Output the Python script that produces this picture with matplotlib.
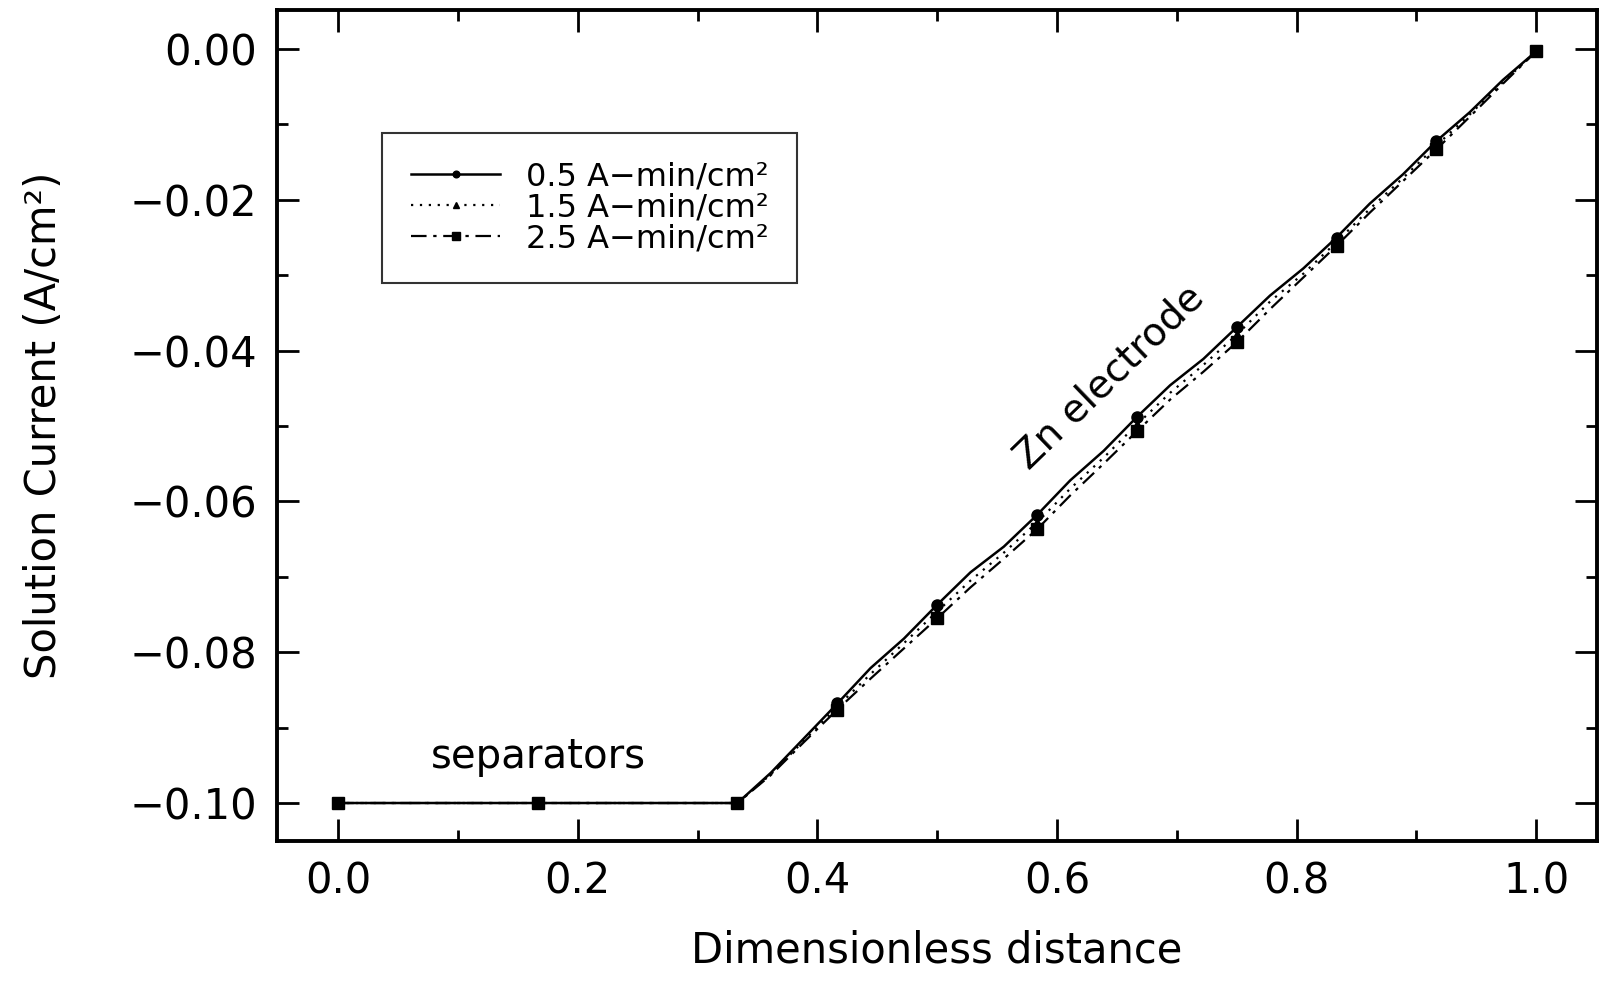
import matplotlib.pyplot as plt
from matplotlib.ticker import MultipleLocator, FuncFormatter

plt.rcParams['font.family'] = ['DejaVu Sans']

# separator region (all three curves coincide)
x_sep = [0.0, 1/6]
y_sep = [-0.100, -0.100]

# electrode region, points every 1/36, markers every 1/12
x_el = [0.3333, 0.3611, 0.3889, 0.4167, 0.4444, 0.4722, 0.5000, 0.5278, 0.5556,
        0.5833, 0.6111, 0.6389, 0.6667, 0.6944, 0.7222, 0.7500, 0.7778, 0.8056,
        0.8333, 0.8611, 0.8889, 0.9167, 0.9444, 0.9722, 1.0000]

y_05 = [-0.1000, -0.0960, -0.0914, -0.0868, -0.0821, -0.0782, -0.0737, -0.0694, -0.0660,
        -0.0618, -0.0572, -0.0533, -0.0488, -0.0446, -0.0411, -0.0369, -0.0327, -0.0291,
        -0.0250, -0.0205, -0.0166, -0.0122, -0.0084, -0.0041, -0.0003]
y_15 = [-0.1000, -0.0962, -0.0917, -0.0872, -0.0829, -0.0788, -0.0746, -0.0705, -0.0668,
        -0.0628, -0.0583, -0.0542, -0.0498, -0.0456, -0.0419, -0.0379, -0.0335, -0.0298,
        -0.0256, -0.0212, -0.0171, -0.0128, -0.0087, -0.0044, -0.0003]
y_25 = [-0.1000, -0.0963, -0.0919, -0.0876, -0.0835, -0.0795, -0.0755, -0.0714, -0.0676,
        -0.0637, -0.0592, -0.0550, -0.0507, -0.0465, -0.0428, -0.0389, -0.0345, -0.0303,
        -0.0261, -0.0217, -0.0175, -0.0133, -0.0090, -0.0046, -0.0003]

labels = ['0.5 A\u2212min/cm\u00b2', '1.5 A\u2212min/cm\u00b2', '2.5 A\u2212min/cm\u00b2']


def fmt_y(v, pos):
    s = f'{v:.2f}'
    if s == '-0.00':
        s = '0.00'
    return s.replace('-', '\u2212')


fig = plt.figure(figsize=(16.08, 9.81), dpi=100)
ax = fig.add_axes([0.172, 0.143, 0.821, 0.847])

x_all = x_sep + x_el
marks = [0, 1] + list(range(2, len(x_all), 3))

ax.plot(x_all, y_sep + y_25, linestyle=(0, (7, 3, 1.5, 3)), color='black', lw=1.6,
        marker='s', markersize=9, markevery=marks, label=labels[2])
ax.plot(x_all, y_sep + y_15, linestyle=(0, (1, 3)), color='black', lw=1.6,
        marker='^', markersize=7, markevery=marks, label=labels[1])
ax.plot(x_all, y_sep + y_05, linestyle='-', color='black', lw=1.8,
        marker='o', markersize=8, markevery=marks, label=labels[0])

ax.set_xlim(-0.0514, 1.0505)
ax.set_ylim(-0.105, 0.0052)
ax.xaxis.set_major_locator(MultipleLocator(0.2))
ax.xaxis.set_minor_locator(MultipleLocator(0.1))
ax.yaxis.set_major_locator(MultipleLocator(0.02))
ax.yaxis.set_minor_locator(MultipleLocator(0.01))
ax.xaxis.set_major_formatter(FuncFormatter(lambda v, p: f'{v:.1f}'))
ax.yaxis.set_major_formatter(FuncFormatter(fmt_y))

ax.tick_params(which='both', direction='in', top=True, right=True, width=2)
ax.tick_params(which='major', length=16, labelsize=30, pad=14)
ax.tick_params(which='minor', length=8)
for s in ax.spines.values():
    s.set_linewidth(2.8)

ax.set_xlabel('Dimensionless distance', fontsize=30, labelpad=20)
ax.set_ylabel('Solution Current (A/cm\u00b2)', fontsize=30, labelpad=46)

ax.text(0.167, -0.0939, 'separators', fontsize=29, ha='center', va='center')
ax.text(0.644, -0.0435, 'Zn electrode', fontsize=28, ha='center', va='center',
        rotation=44)

handles, labs = ax.get_legend_handles_labels()
leg = ax.legend(handles[::-1], labs[::-1], loc='upper left',
                bbox_to_anchor=(0.080, 0.852), borderaxespad=0, fontsize=23,
                frameon=True, fancybox=False, edgecolor='black', handlelength=2.8,
                labelspacing=0.0, borderpad=0.9, handletextpad=0.8,
                markerscale=0.6)
leg.get_frame().set_linewidth(1.5)

fig.savefig('out.png', dpi=100)
